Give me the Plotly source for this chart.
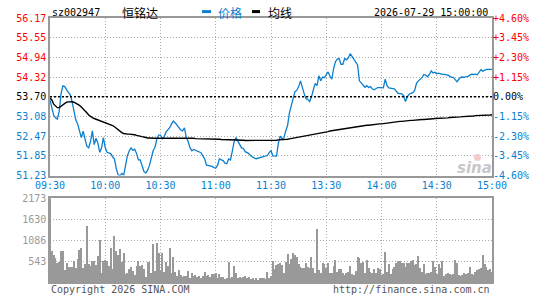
import plotly.graph_objects as go

PRE_CLOSE = 53.70
STOCK_CODE = "sz002947"
STOCK_NAME = "恒铭达"
DATETIME = "2026-07-29 15:00:00"
PRICE_TICKS = ["51.23", "51.85", "52.47", "53.08", "53.70", "54.32", "54.94", "55.55", "56.17"]
PCT_TICKS = ["-4.60%", "-3.45%", "-2.30%", "-1.15%", "0.00%", "+1.15%", "+2.30%", "+3.45%", "+4.60%"]
VOL_TICKS = ["543", "1086", "1630", "2173"]
TIME_LABELS = ["09:30", "10:00", "10:30", "11:00", "11:30", "13:30", "14:00", "14:30", "15:00"]

PRICE_AM = [
    53.60, 53.30, 53.12, 53.04, 53.00, 53.25, 53.80, 54.04, 54.02, 53.92,
    53.85, 53.76, 53.55, 53.25, 52.98, 52.85, 52.62, 52.42, 52.62, 52.38,
    52.15, 52.10, 52.30, 52.63, 52.20, 52.40, 52.25, 51.96, 52.10, 52.42,
    52.10, 51.96, 51.93, 51.92, 51.82, 51.75, 51.45, 51.25, 51.23, 51.30,
    51.24, 51.55, 51.85, 52.00, 52.10, 52.02, 52.06, 51.92, 51.72, 51.72,
    51.50, 51.36, 51.31, 51.40, 51.55, 51.78, 52.01, 52.12, 52.37, 52.50,
    52.50, 52.38, 52.45, 52.60, 52.65, 52.73, 52.85, 52.94, 52.88, 52.80,
    52.70, 52.66, 52.63, 52.73, 52.42, 52.30, 52.10, 52.01, 52.05, 52.02,
    52.00, 51.98, 51.95, 51.85, 51.75, 51.56, 51.55, 51.53, 51.52, 51.48,
    51.47, 51.55, 51.76, 51.72, 51.70, 51.62, 51.60, 51.75, 51.72, 52.00,
    52.30, 52.42, 52.30, 52.20, 52.10, 52.08, 51.98, 51.95, 51.92, 51.85,
    51.80, 51.78, 51.76, 51.78, 51.78, 51.80, 51.84, 51.84, 51.86, 51.95,
    52.01,
]
PRICE_PM = [
    51.85, 51.84, 51.84, 52.25, 52.47, 52.38, 52.42, 52.63, 52.80, 53.20,
    53.42, 53.63, 53.86, 53.90, 54.02, 54.20, 53.98, 53.80, 53.64, 53.62,
    53.55, 53.70, 53.92, 54.12, 54.05, 54.36, 54.20, 54.32, 54.30, 54.40,
    54.48, 54.35, 54.25, 54.58, 54.80, 54.88, 54.90, 54.72, 54.72, 54.90,
    54.86, 54.92, 55.05, 54.97, 54.88, 54.80, 54.70, 54.20, 54.12, 54.04,
    54.00, 54.05, 53.99, 54.02, 53.95, 53.92, 53.97, 53.99, 53.99, 53.98,
    53.98, 54.25, 54.05, 53.98, 53.97, 53.96, 53.95, 53.88, 53.81, 53.80,
    53.79, 53.74, 53.55, 53.70, 53.78, 53.81, 53.83, 53.90, 54.12, 54.20,
    54.25, 54.30, 54.40, 54.38, 54.33, 54.40, 54.51, 54.45, 54.47, 54.42,
    54.44, 54.41, 54.40, 54.40, 54.40, 54.38, 54.35, 54.31, 54.31, 54.25,
    54.17, 54.25, 54.31, 54.32, 54.31, 54.33, 54.34, 54.38, 54.41, 54.40,
    54.41, 54.39, 54.47, 54.55, 54.50, 54.54, 54.56, 54.56, 54.56, 54.56,
]
AVG_AM = [
    53.66, 53.60, 53.47, 53.40, 53.36, 53.36, 53.40, 53.45, 53.50, 53.53,
    53.54, 53.55, 53.55, 53.53, 53.50, 53.46, 53.43, 53.38, 53.33, 53.26,
    53.20, 53.13, 53.08, 53.05, 53.02, 53.00, 52.97, 52.95, 52.93, 52.91,
    52.89, 52.87, 52.85, 52.83, 52.80, 52.76, 52.71, 52.66, 52.62, 52.58,
    52.55, 52.53, 52.53, 52.53, 52.53, 52.52, 52.51, 52.49, 52.47, 52.46,
    52.45, 52.44, 52.42, 52.41, 52.41, 52.40, 52.40, 52.40, 52.40, 52.40,
    52.40, 52.40, 52.40, 52.40, 52.40, 52.41, 52.41, 52.41, 52.41, 52.42,
    52.42, 52.42, 52.42, 52.42, 52.42, 52.42, 52.42, 52.41, 52.40, 52.39,
    52.39, 52.39, 52.39, 52.38, 52.38, 52.38, 52.38, 52.38, 52.37, 52.37,
    52.37, 52.37, 52.37, 52.36, 52.36, 52.36, 52.36, 52.36, 52.35, 52.35,
    52.35, 52.35, 52.35, 52.34, 52.34, 52.34, 52.33, 52.33, 52.33, 52.32,
    52.32, 52.32, 52.32, 52.32, 52.32, 52.32, 52.32, 52.32, 52.32, 52.33,
    52.33,
]
AVG_PM = [
    52.34, 52.34, 52.34, 52.35, 52.35, 52.35, 52.36, 52.36, 52.37, 52.38,
    52.39, 52.40, 52.41, 52.42, 52.43, 52.44, 52.46, 52.47, 52.48, 52.49,
    52.50, 52.51, 52.52, 52.53, 52.55, 52.56, 52.57, 52.58, 52.59, 52.60,
    52.61, 52.63, 52.64, 52.65, 52.66, 52.67, 52.68, 52.69, 52.70, 52.71,
    52.72, 52.73, 52.74, 52.75, 52.76, 52.77, 52.77, 52.78, 52.79, 52.79,
    52.80, 52.81, 52.81, 52.82, 52.83, 52.83, 52.84, 52.84, 52.85, 52.85,
    52.86, 52.87, 52.87, 52.88, 52.89, 52.89, 52.90, 52.91, 52.92, 52.93,
    52.93, 52.94, 52.94, 52.95, 52.95, 52.96, 52.96, 52.97, 52.97, 52.98,
    52.98, 52.99, 52.99, 52.99, 53.00, 53.00, 53.01, 53.01, 53.02, 53.02,
    53.02, 53.03, 53.03, 53.04, 53.04, 53.04, 53.05, 53.05, 53.06, 53.06,
    53.07, 53.07, 53.07, 53.08, 53.08, 53.09, 53.09, 53.10, 53.10, 53.10,
    53.11, 53.11, 53.11, 53.12, 53.12, 53.12, 53.13, 53.13, 53.13, 53.14,
]
VOL_AM = [
    2173, 802, 698, 603, 474, 517, 802, 802, 310, 483,
    388, 388, 388, 535, 362, 595, 828, 871, 362, 457,
    1449, 457, 414, 535, 535, 440, 673, 1087, 224, 535,
    569, 535, 414, 862, 328, 1190, 785, 698, 854, 517,
    742, 190, 233, 336, 371, 285, 181, 414, 535, 397,
    440, 328, 112, 517, 517, 224, 991, 276, 1009, 733,
    285, 733, 259, 517, 405, 862, 233, 647, 250, 155,
    302, 164, 112, 155, 138, 276, 103, 224, 138, 172,
    112, 138, 86, 147, 259, 138, 172, 121, 190, 207,
    224, 86, 198, 112, 112, 69, 86, 509, 86, 129,
    405, 224, 86, 129, 86, 112, 155, 86, 121, 69,
    103, 52, 103, 34, 103, 103, 86, 69, 250, 86,
    150,
]
VOL_PM = [
    547, 322, 435, 461, 478, 435, 217, 521, 713, 461,
    582, 756, 695, 652, 461, 391, 348, 348, 478, 391,
    348, 652, 348, 217, 1364, 304, 217, 478, 452, 348,
    495, 217, 217, 408, 565, 261, 339, 322, 235, 174,
    235, 261, 408, 200, 165, 278, 652, 608, 495, 513,
    217, 565, 348, 261, 217, 322, 217, 348, 322, 174,
    200, 782, 261, 461, 200, 322, 391, 478, 547, 547,
    478, 495, 374, 495, 495, 547, 565, 426, 461, 669,
    348, 252, 461, 200, 235, 217, 261, 547, 391, 200,
    461, 348, 547, 148, 200, 235, 200, 174, 200, 565,
    478, 174, 148, 174, 217, 191, 235, 374, 200, 174,
    261, 304, 322, 348, 687, 461, 391, 300, 330, 250,
]

price = PRICE_AM + PRICE_PM
avg = AVG_AM + AVG_PM
vol = VOL_AM + VOL_PM
n = len(price)
idx = list(range(n))
vidx = list(range(len(vol)))

BLUE = "#0a7fd0"
RED = "#ff0000"
GRAY = "#999999"
MONO = "DejaVu Sans Mono"

tick_vals = [float(t) for t in PRICE_TICKS]
y_min, y_max = tick_vals[0], tick_vals[-1]


def colour(v):
    if abs(v - PRE_CLOSE) < 1e-6:
        return "#000000"
    return RED if v > PRE_CLOSE else BLUE


price_text = [f'<span style="color:{colour(v)}">{t}</span>' for v, t in zip(tick_vals, PRICE_TICKS)]
pct_text = [f'<span style="color:{colour(v)}">{t}</span>' for v, t in zip(tick_vals, PCT_TICKS)]
time_vals = [30 * k for k in range(len(TIME_LABELS))]
last = n - 1

fig = go.Figure()
fig.add_trace(go.Scatter(x=idx, y=price, mode="lines", line=dict(color=BLUE, width=1.3),
                         xaxis="x", yaxis="y", hoverinfo="skip"))
fig.add_trace(go.Scatter(x=idx, y=avg, mode="lines", line=dict(color="#000000", width=1.4),
                         xaxis="x", yaxis="y", hoverinfo="skip"))
fig.add_trace(go.Bar(x=vidx, y=vol, marker=dict(color=GRAY, line=dict(width=0)), width=0.6,
                     xaxis="x2", yaxis="y3", hoverinfo="skip"))

grid = dict(showgrid=True, gridcolor="#aaaaaa", gridwidth=1, griddash="1px,2px")
border = dict(showline=True, mirror=True, linecolor="#999999", linewidth=1.5, zeroline=False)

fig.update_layout(
    width=545, height=300,
    margin=dict(l=50, r=53, t=17, b=15),
    paper_bgcolor="white", plot_bgcolor="white",
    showlegend=False, bargap=0,
    font=dict(family=MONO, size=10, color="#000000"),
    xaxis=dict(domain=[0, 1], anchor="y", range=[0, last], tickmode="array",
               tickvals=time_vals, ticktext=TIME_LABELS, ticks="",
               tickfont=dict(family=MONO, size=10, color=BLUE), **grid, **border),
    yaxis=dict(domain=[0.403, 1], anchor="x", range=[y_min, y_max], tickmode="array",
               tickvals=tick_vals, ticktext=price_text, ticks="",
               tickfont=dict(family=MONO, size=10), **grid, **border),
    yaxis2=dict(overlaying="y", side="right", anchor="x", range=[y_min, y_max],
                tickmode="array", tickvals=tick_vals, ticktext=pct_text, ticks="",
                tickfont=dict(family=MONO, size=10), showgrid=False, zeroline=False,
                showline=False),
    xaxis2=dict(domain=[0, 1], anchor="y3", range=[0, last], tickmode="array",
                tickvals=time_vals, showticklabels=False, ticks="", **grid, **border),
    yaxis3=dict(domain=[0, 0.317], anchor="x2", range=[0, float(VOL_TICKS[-1])],
                tickmode="array", tickvals=[float(v) for v in VOL_TICKS], ticktext=VOL_TICKS,
                ticks="", tickfont=dict(family=MONO, size=10, color=GRAY), **grid, **border),
)

# dummy trace to activate the right-hand percent axis
fig.add_trace(go.Scatter(x=[0], y=[PRE_CLOSE], mode="markers", marker=dict(opacity=0),
                         xaxis="x", yaxis="y2", hoverinfo="skip"))

# previous close reference line
fig.add_shape(type="line", xref="x", yref="y", x0=0, x1=last, y0=PRE_CLOSE, y1=PRE_CLOSE,
              line=dict(color="#000000", width=1.5, dash="2px,2px"))


def px(xp):
    return (xp - 50) / 442.0


def py(yp):
    return (285 - yp) / 268.0


hy = py(11)
fig.add_annotation(x=px(50), y=hy, xref="paper", yref="paper", text=STOCK_CODE, showarrow=False,
                   xanchor="left", yanchor="middle", font=dict(family=MONO, size=10, color="#000"))
fig.add_annotation(x=px(120), y=hy, xref="paper", yref="paper", text=STOCK_NAME, showarrow=False,
                   xanchor="left", yanchor="middle",
                   font=dict(family="Noto Sans CJK SC", size=12, color="#000"))
fig.add_shape(type="line", xref="paper", yref="paper", x0=px(202), x1=px(211), y0=py(10.5), y1=py(10.5),
              line=dict(color=BLUE, width=3))
fig.add_annotation(x=px(216), y=hy, xref="paper", yref="paper", text="价格", showarrow=False,
                   xanchor="left", yanchor="middle",
                   font=dict(family="Noto Sans CJK SC", size=12, color=BLUE))
fig.add_shape(type="line", xref="paper", yref="paper", x0=px(252), x1=px(260), y0=py(10.5), y1=py(10.5),
              line=dict(color="#000000", width=3))
fig.add_annotation(x=px(266), y=hy, xref="paper", yref="paper", text="均线", showarrow=False,
                   xanchor="left", yanchor="middle",
                   font=dict(family="Noto Sans CJK SC", size=12, color="#000"))
fig.add_annotation(x=px(490), y=hy, xref="paper", yref="paper", text=DATETIME, showarrow=False,
                   xanchor="right", yanchor="middle", font=dict(family=MONO, size=10, color="#000"))

fig.add_annotation(x=px(49), y=py(293), xref="paper", yref="paper", text="Copyright 2026 SINA.COM",
                   showarrow=False, xanchor="left", yanchor="middle",
                   font=dict(family=MONO, size=10, color="#555555"))
fig.add_annotation(x=px(492), y=py(293), xref="paper", yref="paper", text="http://finance.sina.com.cn",
                   showarrow=False, xanchor="right", yanchor="middle",
                   font=dict(family=MONO, size=10, color="#555555"))

# sina watermark
fig.add_annotation(x=px(474), y=py(169), xref="paper", yref="paper", text="<b><i>sina</i></b>",
                   showarrow=False, xanchor="center", yanchor="middle",
                   font=dict(family="DejaVu Sans", size=15, color="#c8c8c8"))
fig.add_shape(type="circle", xref="paper", yref="paper", x0=px(474), x1=px(481), y0=py(162), y1=py(155),
              line=dict(width=0), fillcolor="#f2caca")

fig.write_html("out.html", config={"displayModeBar": False})
